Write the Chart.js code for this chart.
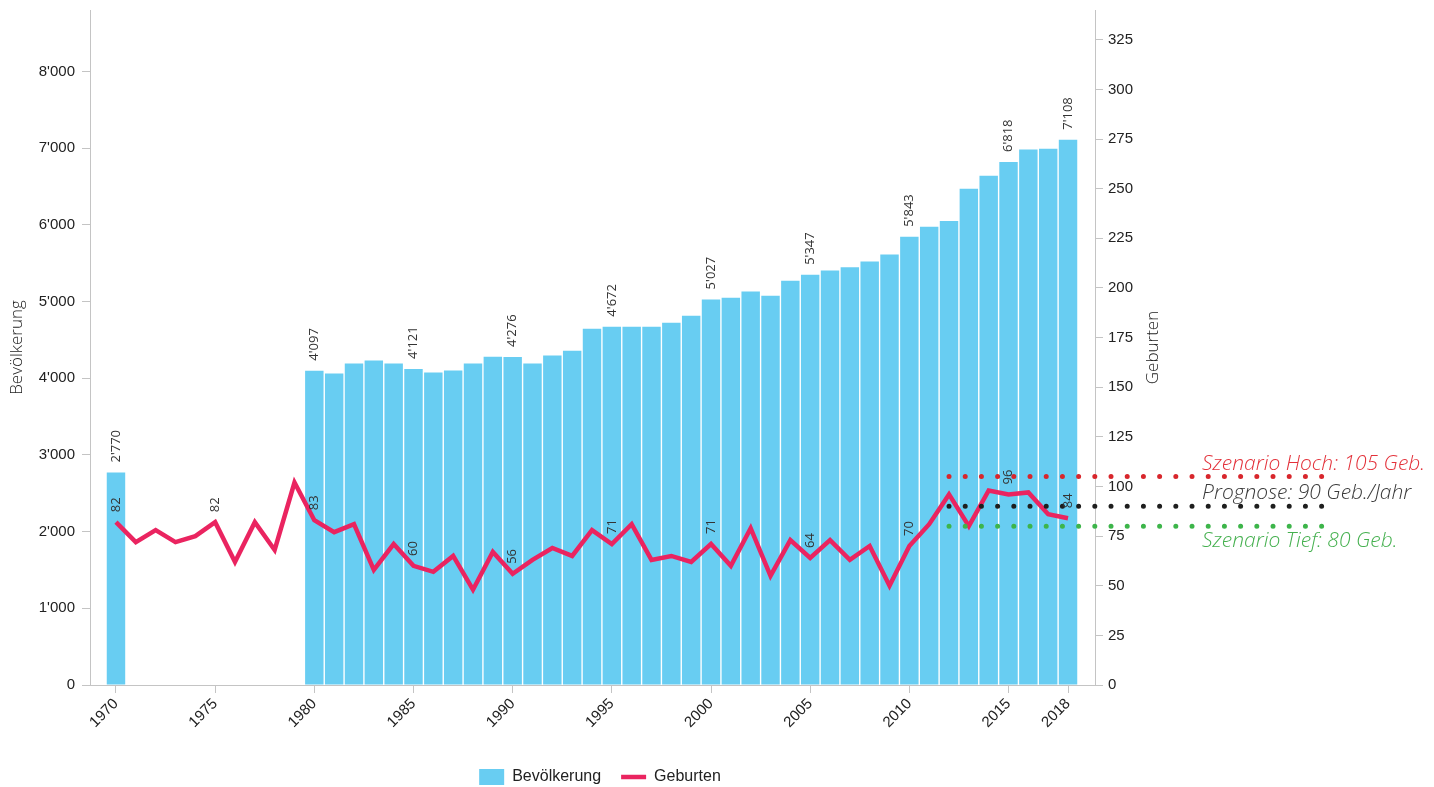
<!DOCTYPE html>
<html><head><meta charset="utf-8">
<script src="https://cdn.jsdelivr.net/npm/chart.js@4.4.1/dist/chart.umd.min.js"></script>
<style>html,body{margin:0;padding:0;background:#fff;}#wrap{width:1434px;height:787px;}</style>
</head><body><div id="wrap"><canvas id="c" width="1434" height="787"></canvas></div>
<script>
const years = [1970,1971,1972,1973,1974,1975,1976,1977,1978,1979,1980,1981,1982,1983,1984,1985,1986,1987,1988,1989,1990,1991,1992,1993,1994,1995,1996,1997,1998,1999,2000,2001,2002,2003,2004,2005,2006,2007,2008,2009,2010,2011,2012,2013,2014,2015,2016,2017,2018];
const population = [2770,null,null,null,null,null,null,null,null,null,4097,4060,4190,4230,4190,4121,4075,4100,4190,4280,4276,4190,4295,4358,4645,4672,4672,4670,4723,4814,5027,5050,5130,5075,5270,5347,5405,5445,5520,5612,5843,5975,6050,6470,6640,6818,6980,6990,7108];
const births = [82,72,78,72,75,82,62,82,68,102,83,77,81,58,71,60,57,65,48,67,56,63,69,65,78,71,81,63,65,62,71,60,79,55,73,64,73,63,70,50,70,81,96,80,98,96,97,86,84];
const labelYears = [1970,1975,1980,1985,1990,1995,2000,2005,2010,2015,2018];
const leftTicks = [0,1000,2000,3000,4000,5000,6000,7000,8000];
const rightTicks = [0,25,50,75,100,125,150,175,200,225,250,275,300,325];
const scenarioNames = ['Szenario Hoch: 105 Geb.','Prognose: 90 Geb./Jahr','Szenario Tief: 80 Geb.'];
const scenarioValues = [105,90,80];
const scenarioFrom = 2012;
const scenarioTo = 2031.5;
const scenarioLabelAt = 2024.76;

// styles
const scenarioDotColors = ['#d8262c','#1e1e1e','#3db54a'];
const scenarioTextColors = ['#e3313a','#3a3a3a','#45b04f'];
const scenarioTextOffsets = [-7,-7,21];

const fmt = v => String(v).replace(/\B(?=(\d{3})+(?!\d))/g, "'");
const tickFont = {family:'"Liberation Sans", Arial, sans-serif', size:15};
const axisColor = '#c4c4c4';

const overlay = {
  id:'overlay',
  afterDatasetsDraw(chart){
    const {ctx, chartArea, scales} = chart;
    const x = scales.x, y1 = scales.y1;
    ctx.save();
    scenarioValues.forEach((v,k)=>{
      const yy = y1.getPixelForValue(v);
      ctx.beginPath();
      ctx.setLineDash([0,16.2]);
      ctx.lineCap='round';
      ctx.lineWidth=5;
      ctx.strokeStyle=scenarioDotColors[k];
      ctx.moveTo(x.getPixelForValue(scenarioFrom), yy);
      ctx.lineTo(x.getPixelForValue(scenarioTo), yy);
      ctx.stroke();
    });
    ctx.setLineDash([]);
    ctx.font = 'italic 300 21px "Open Sans", sans-serif';
    ctx.textAlign='left'; ctx.textBaseline='alphabetic';
    scenarioValues.forEach((v,k)=>{
      ctx.fillStyle = scenarioTextColors[k];
      ctx.fillText(scenarioNames[k], x.getPixelForValue(scenarioLabelAt), y1.getPixelForValue(v)+scenarioTextOffsets[k]);
    });
    const barMeta = chart.getDatasetMeta(0), lineMeta = chart.getDatasetMeta(1);
    ctx.font = '13px "Open Sans", sans-serif';
    ctx.fillStyle = '#333';
    ctx.textAlign='left'; ctx.textBaseline='middle';
    const rot = (t, px, py) => { ctx.save(); ctx.translate(px, py); ctx.rotate(-Math.PI/2); ctx.fillText(t,0,0); ctx.restore(); };
    labelYears.forEach(yr=>{
      const i = years.indexOf(yr);
      if (population[i] != null) { const el = barMeta.data[i]; rot(fmt(population[i]), el.x, el.y-10); }
      const p = lineMeta.data[i]; rot(String(births[i]), p.x, p.y-10);
    });
    ctx.font = '300 17px "Open Sans", sans-serif';
    ctx.fillStyle = '#222';
    ctx.textAlign='center'; ctx.textBaseline='middle';
    const cy = (chartArea.top+chartArea.bottom)/2;
    rot('Bevölkerung', 17, cy);
    rot('Geburten', scales.y1.left + 58, cy);
    ctx.restore();
  }
};

new Chart(document.getElementById('c'), {
  type:'bar',
  data:{
    labels: years,
    datasets:[
      {type:'bar', label:'Bevölkerung', data: population, backgroundColor:'#68cdf2', borderWidth:0, yAxisID:'y', order:2, barPercentage:0.93, categoryPercentage:1, pointStyle:'rect'},
      {type:'line', label:'Geburten', data: births, borderColor:'#ea2460', backgroundColor:'#ea2460', borderWidth:4.5, pointRadius:0, tension:0, borderJoinStyle:'miter', yAxisID:'y1', order:1, pointStyle:'line'}
    ]
  },
  options:{
    responsive:false, animation:false, devicePixelRatio:1,
    layout:{padding:{left:25, right:259, top:10, bottom:-8}},
    plugins:{
      legend:{position:'bottom', labels:{usePointStyle:true, pointStyleWidth:25, boxHeight:16, padding:20, color:'#222', font:{family:'"Liberation Sans", Arial, sans-serif', size:16}, sort:(a,b)=>a.datasetIndex-b.datasetIndex}},
      tooltip:{enabled:false}
    },
    scales:{
      x:{type:'linear', min:1968.69, max:2019.36, offset:false,
         grid:{drawOnChartArea:false, tickLength:8, color:axisColor, offset:false},
         border:{color:axisColor},
         ticks:{autoSkip:false, maxRotation:45, minRotation:45, padding:2, color:'#222', font:tickFont, callback:v=>String(v)},
         afterBuildTicks:s=>{ s.ticks = labelYears.map(v=>({value:v})); },
         afterFit:s=>{ s.height = 64; s.paddingLeft = 0; s.paddingRight = 0; }
      },
      y:{position:'left', min:0, max:8800,
         grid:{drawOnChartArea:false, tickLength:8, color:axisColor},
         border:{color:axisColor},
         ticks:{padding:7, color:'#222', font:tickFont, callback:v=>fmt(v)},
         afterBuildTicks:s=>{ s.ticks = leftTicks.map(v=>({value:v})); },
         afterFit:s=>{ s.width = 65; s.paddingTop = 0; s.paddingBottom = 0; }
      },
      y1:{position:'right', min:0, max:340,
         grid:{drawOnChartArea:false, tickLength:8, color:axisColor},
         border:{color:axisColor},
         ticks:{padding:5, color:'#222', font:tickFont, callback:v=>String(v)},
         afterBuildTicks:s=>{ s.ticks = rightTicks.map(v=>({value:v})); },
         afterFit:s=>{ s.width = 80; s.paddingTop = 0; s.paddingBottom = 0; }
      }
    }
  },
  plugins:[overlay]
});
</script></body></html>
